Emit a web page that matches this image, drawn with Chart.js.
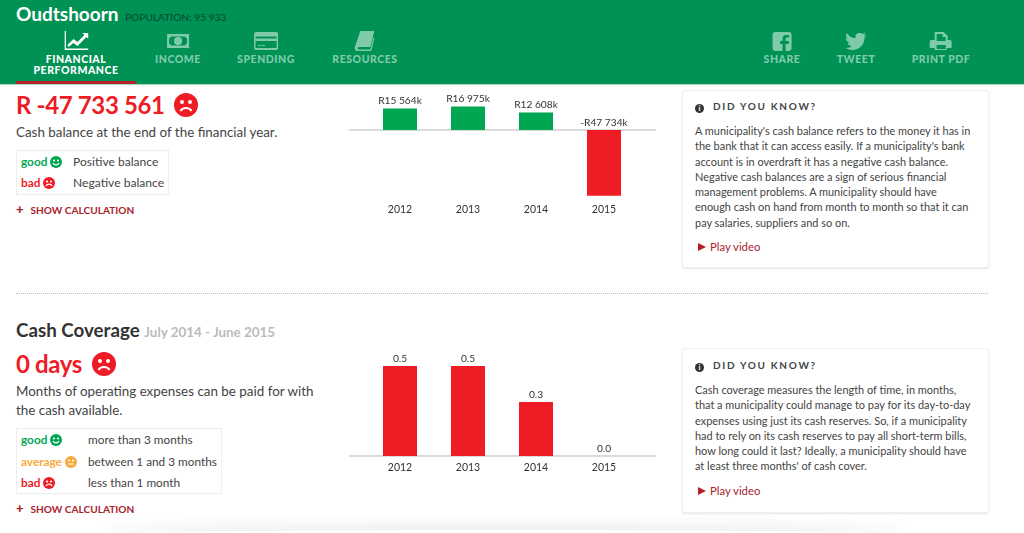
<!DOCTYPE html>
<html>
<head>
<meta charset="utf-8">
<script src="https://cdn.jsdelivr.net/npm/chart.js@4/dist/chart.umd.min.js"></script>
<style>
  html, body { margin: 0; padding: 0; background: #fff; }
  body { width: 1024px; height: 533px; position: relative; overflow: hidden; font-family: Lato, sans-serif; color: #444; }
  .abs { position: absolute; white-space: nowrap; }
  header { position: absolute; left: 0; top: 0; width: 1024px; height: 84px; background: #009155; border-bottom: 1px solid #a5d8c0; }
  .city { left: 16px; top: 2px; font-size: 19px; line-height: 24px; font-weight: 700; color: #fff; }
  .pop { left: 125px; top: 10px; font-size: 10.2px; line-height: 14px; color: #064a2c; }
  .tab { position: absolute; top: 31px; text-align: center; font-size: 10.5px; line-height: 10.5px; font-weight: 900; letter-spacing: 0.55px; color: #7fcba9; white-space: nowrap; transform: translateX(-50%); }
  .tab svg { display: block; margin: 0 auto 3px; width: 24px; height: 20px; fill: #7fcba9; }
  .tab.on { color: #fff; }
  .tab.on svg { fill: #fff; }
  .tabline { left: 16px; top: 81px; width: 120px; height: 3px; background: #b5202a; }
  .big { font-size: 24px; line-height: 30px; font-weight: 700; color: #ee1c25; letter-spacing: -0.35px; }
  .desc { font-size: 13.4px; line-height: 19px; color: #444; }
  .title { font-size: 18.75px; line-height: 22px; font-weight: 700; color: #333; }
  .period { font-size: 13.4px; line-height: 18px; color: #bbb; }
  .rate { border: 1px solid #eee; left: 16px; }
  .r { font-size: 11.8px; line-height: 14px; }
  .g { color: #00a651; font-weight: 700; }
  .a { color: #f9a93c; font-weight: 700; }
  .b { color: #ee1c25; font-weight: 700; }
  .show { left: 16px; font-size: 10.1px; line-height: 14px; font-weight: 700; color: #a8222c; }
  .show span { font-size: 13px; font-weight: 900; margin-right: 7px; }
  .card { position: absolute; left: 682px; width: 305px; border: 1px solid #f0f0f0; border-radius: 3px; box-shadow: 0 1px 2px rgba(0,0,0,.1); background: #fff; }
  .know { left: 12px; top: 8px; font-size: 10px; line-height: 14px; font-weight: 700; letter-spacing: 1.7px; color: #444; }
  .know i { display: inline-block; width: 9px; height: 9px; border-radius: 50%; background: #333; margin-right: 9px; color: #fff; font: 700 8px/9px Lato; text-align: center; letter-spacing: 0; vertical-align: -1px; }
  .body { left: 12px; top: 32px; font-size: 10.95px; line-height: 15.3px; color: #444; }
  .play { left: 15px; font-size: 11.3px; line-height: 14px; color: #a8222c; }
  .play b { display: inline-block; width: 0; height: 0; border-left: 8px solid #b5202a; border-top: 4px solid transparent; border-bottom: 4px solid transparent; margin-right: 4px; }
  .sep { left: 16px; top: 293px; width: 972px; border-top: 1px dotted #bbb; }
  .fade { left: 100px; top: 530px; width: 810px; height: 10px; border-radius: 50%; box-shadow: 0 -4px 14px rgba(0,0,0,.1); }
  canvas { position: absolute; }
  .face { display: inline-block; vertical-align: -2px; }
</style>
</head>
<body>
<header>
  <div class="abs city">Oudtshoorn</div>
  <div class="abs pop">POPULATION: 95 933</div>
  <div class="tab on" style="left:76px"><svg viewBox="0 0 24 20"><path d="M0 0h1.500v17.500H24V19H0z"/><path d="M3 14l6-6 4 3 7-7-2-2h6v6l-2-2-9 9-4-3-5 4z"/></svg>FINANCIAL<br>PERFORMANCE</div>
  <div class="tab" style="left:178px"><svg viewBox="0 0 24 20"><path fill-rule="evenodd" d="M1 3h22v14H1zM5 5.500a3 3 0 0 1-2 2v5a3 3 0 0 1 2 2h14a3 3 0 0 1 2-2v-5a3 3 0 0 1-2-2zM12 6a4 4 0 1 1 0 8 4 4 0 0 1 0-8z"/></svg>INCOME</div>
  <div class="tab" style="left:266px"><svg viewBox="0 0 24 20"><path fill-rule="evenodd" d="M2 1h20a2 2 0 0 1 2 2v14a2 2 0 0 1-2 2H2a2 2 0 0 1-2-2V3a2 2 0 0 1 2-2zM1.500 5.500v2h21v-2zM1.500 10v7h21v-7zM4 14h3v1H4zM8 14h3v1H8z"/></svg>SPENDING</div>
  <div class="tab" style="left:365px"><svg viewBox="0 0 24 20"><path d="M7 0h14l-4 16H5a1.500 1.500 0 0 0 0 2.500h12l3-12 1 1-3 12.500H4c-2 0-3-2-2.500-4z"/></svg>RESOURCES</div>
  <div class="tab" style="left:782px"><svg viewBox="0 0 24 20"><path d="M6 1h13a3 3 0 0 1 3 3v13a3 3 0 0 1-3 3h-3v-7h3l.5-3H16V8c0-1 .5-1.500 1.500-1.500H19.500V4h-3C14 4 13 5.500 13 8v2h-2.500v3H13v7H6a3 3 0 0 1-3-3V4a3 3 0 0 1 3-3z"/></svg>SHARE</div>
  <div class="tab" style="left:856px"><svg viewBox="0 0 24 20"><path d="M23 4l-2 2c0 8-6 13-12 13-3 0-5-1-7-2 3 0 5-1 6-2-2 0-4-2-4-3h2c-2-1-4-3-4-5l2 1C2 6 2 4 3 2c2 3 5 5 9 5-1-3 1-5 4-5 1 0 2 0 3 1l3-1-2 3z"/></svg>TWEET</div>
  <div class="tab" style="left:941px"><svg viewBox="0 0 24 20"><path fill-rule="evenodd" d="M6 1h9l4 4v4h2a2 2 0 0 1 2 2v5a1 1 0 0 1-1 1h-4v2H6v-2H2a1 1 0 0 1-1-1v-5a2 2 0 0 1 2-2h3zM8 3v7h9V6h-3V3zM8 14v4h9v-4z"/></svg>PRINT PDF</div>
</header>
<div class="abs tabline"></div>

<div class="abs big" style="left:16px;top:90px">R -47 733 561 <svg class="face" style="vertical-align:-3px;margin-left:4px" width="24" height="24" viewBox="0 0 24 24"><circle cx="12" cy="12" r="12" fill="#ee1c25"/><circle cx="8" cy="9" r="2" fill="#fff"/><circle cx="16" cy="9" r="2" fill="#fff"/><path d="M6.500 18c2-4 9-4 11 0" fill="none" stroke="#fff" stroke-width="2"/></svg></div>
<div class="abs desc" style="left:16px;top:123px">Cash balance at the end of the financial year.</div>
<div class="abs rate" style="top:150px;width:151px;height:43px"></div>
<div class="abs r g" style="left:21px;top:155px">good <svg class="face" width="12" height="12" viewBox="0 0 24 24"><circle cx="12" cy="12" r="12" fill="#00a651"/><circle cx="8" cy="9" r="2.200" fill="#fff"/><circle cx="16" cy="9" r="2.200" fill="#fff"/><path d="M6 14c2 5 10 5 12 0" fill="none" stroke="#fff" stroke-width="2.400"/></svg></div>
<div class="abs r" style="left:73px;top:155px;font-size:12.100px">Positive balance</div>
<div class="abs r b" style="left:21px;top:176px">bad <svg class="face" width="12" height="12" viewBox="0 0 24 24"><circle cx="12" cy="12" r="12" fill="#ee1c25"/><circle cx="8" cy="9" r="2.200" fill="#fff"/><circle cx="16" cy="9" r="2.200" fill="#fff"/><path d="M6 18c2-5 10-5 12 0" fill="none" stroke="#fff" stroke-width="2.400"/></svg></div>
<div class="abs r" style="left:73px;top:176px;font-size:12.100px">Negative balance</div>
<div class="abs show" style="top:202px"><span>+</span>SHOW CALCULATION</div>

<canvas id="balanceChart" width="307" height="130" style="left:349px;top:90px"></canvas>

<div class="card" style="top:90px;height:176px">
  <div class="abs know"><i>i</i>DID YOU KNOW?</div>
  <div class="abs body">A municipality's cash balance refers to the money it has in<br>the bank that it can access easily. If a municipality's bank<br>account is in overdraft it has a negative cash balance.<br>Negative cash balances are a sign of serious financial<br>management problems. A municipality should have<br>enough cash on hand from month to month so that it can<br>pay salaries, suppliers and so on.</div>
  <div class="abs play" style="top:149px"><b></b>Play video</div>
</div>

<div class="abs sep"></div>

<div class="abs title" style="left:16px;top:319px">Cash Coverage <span class="period">July 2014 - June 2015</span></div>
<div class="abs big" style="left:16px;top:349px">0 days <svg class="face" style="vertical-align:-3px;margin-left:4px" width="24" height="24" viewBox="0 0 24 24"><circle cx="12" cy="12" r="12" fill="#ee1c25"/><circle cx="8" cy="9" r="2" fill="#fff"/><circle cx="16" cy="9" r="2" fill="#fff"/><path d="M6.500 18c2-4 9-4 11 0" fill="none" stroke="#fff" stroke-width="2"/></svg></div>
<div class="abs desc" style="left:16px;top:382px">Months of operating expenses can be paid for with<br>the cash available.</div>
<div class="abs rate" style="top:428px;width:204px;height:64px"></div>
<div class="abs r g" style="left:21px;top:433px">good <svg class="face" width="12" height="12" viewBox="0 0 24 24"><circle cx="12" cy="12" r="12" fill="#00a651"/><circle cx="8" cy="9" r="2.200" fill="#fff"/><circle cx="16" cy="9" r="2.200" fill="#fff"/><path d="M6 14c2 5 10 5 12 0" fill="none" stroke="#fff" stroke-width="2.400"/></svg></div>
<div class="abs r" style="left:88px;top:433px">more than 3 months</div>
<div class="abs r a" style="left:21px;top:455px">average <svg class="face" width="12" height="12" viewBox="0 0 24 24"><circle cx="12" cy="12" r="12" fill="#f9a93c"/><circle cx="8" cy="9" r="2.200" fill="#fff"/><circle cx="16" cy="9" r="2.200" fill="#fff"/><path d="M7 16h10" fill="none" stroke="#fff" stroke-width="2.400"/></svg></div>
<div class="abs r" style="left:88px;top:455px">between 1 and 3 months</div>
<div class="abs r b" style="left:21px;top:476px">bad <svg class="face" width="12" height="12" viewBox="0 0 24 24"><circle cx="12" cy="12" r="12" fill="#ee1c25"/><circle cx="8" cy="9" r="2.200" fill="#fff"/><circle cx="16" cy="9" r="2.200" fill="#fff"/><path d="M6 18c2-5 10-5 12 0" fill="none" stroke="#fff" stroke-width="2.400"/></svg></div>
<div class="abs r" style="left:88px;top:476px">less than 1 month</div>
<div class="abs show" style="top:501px"><span>+</span>SHOW CALCULATION</div>

<canvas id="coverageChart" width="307" height="140" style="left:349px;top:340px"></canvas>

<div class="card" style="top:348px;height:163px">
  <div class="abs know" style="top:9px"><i>i</i>DID YOU KNOW?</div>
  <div class="abs body" style="top:33px">Cash coverage measures the length of time, in months,<br>that a municipality could manage to pay for its day-to-day<br>expenses using just its cash reserves. So, if a municipality<br>had to rely on its cash reserves to pay all short-term bills,<br>how long could it last? Ideally, a municipality should have<br>at least three months' of cash cover.</div>
  <div class="abs play" style="top:135px"><b></b>Play video</div>
</div>

<div class="abs fade"></div>

<script>
const years = ['2012', '2013', '2014', '2015'];
const cashBalance = [15564, 16975, 12608, -47734];
const cashCoverage = [0.5, 0.5, 0.3, 0.0];

const GREEN = '#00a651';
const RED = '#ee1c25';

const formatRands = (v) => {
  const abs = String(Math.abs(v));
  const text = abs.slice(0, -3) + ' ' + abs.slice(-3);
  return (v < 0 ? '-R' : 'R') + text + 'k';
};

// baseline runs past the plot area, and labels sit above the zero line for negative bars
const barExtras = {
  id: 'barExtras',
  beforeDatasetsDraw(chart) {
    const { ctx, scales } = chart;
    const y = scales.y.getPixelForValue(0);
    ctx.save();
    ctx.strokeStyle = '#cfcfcf';
    ctx.lineWidth = 1.5;
    ctx.beginPath();
    ctx.moveTo(0, y);
    ctx.lineTo(chart.width, y);
    ctx.stroke();
    ctx.restore();
  },
  afterDatasetsDraw(chart, args, opts) {
    const { ctx, scales } = chart;
    const zero = scales.y.getPixelForValue(0);
    const values = chart.data.datasets[0].data;
    ctx.save();
    ctx.font = '10.2px Lato';
    ctx.fillStyle = '#333';
    ctx.textAlign = 'center';
    ctx.textBaseline = 'bottom';
    chart.getDatasetMeta(0).data.forEach((bar, i) => {
      const y = values[i] < 0 ? zero : bar.y;
      ctx.fillText(opts.format(values[i]), bar.x, y - 2.5);
    });
    ctx.restore();
  },
};

const buildChart = (id, values, colors, format, range, padTop, axisHeight, tickPad) => {
  return new Chart(document.getElementById(id), {
    type: 'bar',
    data: {
      labels: years,
      datasets: [{ data: values, backgroundColor: colors, categoryPercentage: 1, barPercentage: 0.5 }],
    },
    options: {
      responsive: false,
      animation: false,
      layout: { padding: { left: 17, right: 18, top: padTop, bottom: 0 } },
      plugins: {
        legend: { display: false },
        tooltip: { enabled: false },
        barExtras: { format },
      },
      scales: {
        x: {
          grid: { display: false, drawTicks: false },
          border: { display: false },
          ticks: { color: '#333', font: { family: 'Lato', size: 10.5 }, padding: tickPad, maxRotation: 0 },
          afterFit: (scale) => { scale.height = axisHeight; },
        },
        y: { display: false, min: range[0], max: range[1] },
      },
    },
    plugins: [barExtras],
  });
};

buildChart('balanceChart', cashBalance, cashBalance.map((v) => (v < 0 ? RED : GREEN)), formatRands, [-50000, 20000], 12.3, 21, 4.5);
buildChart('coverageChart', cashCoverage, cashCoverage.map(() => RED), (v) => v.toFixed(1), [0, 0.6], 8, 24, 5);
</script>
</body>
</html>
